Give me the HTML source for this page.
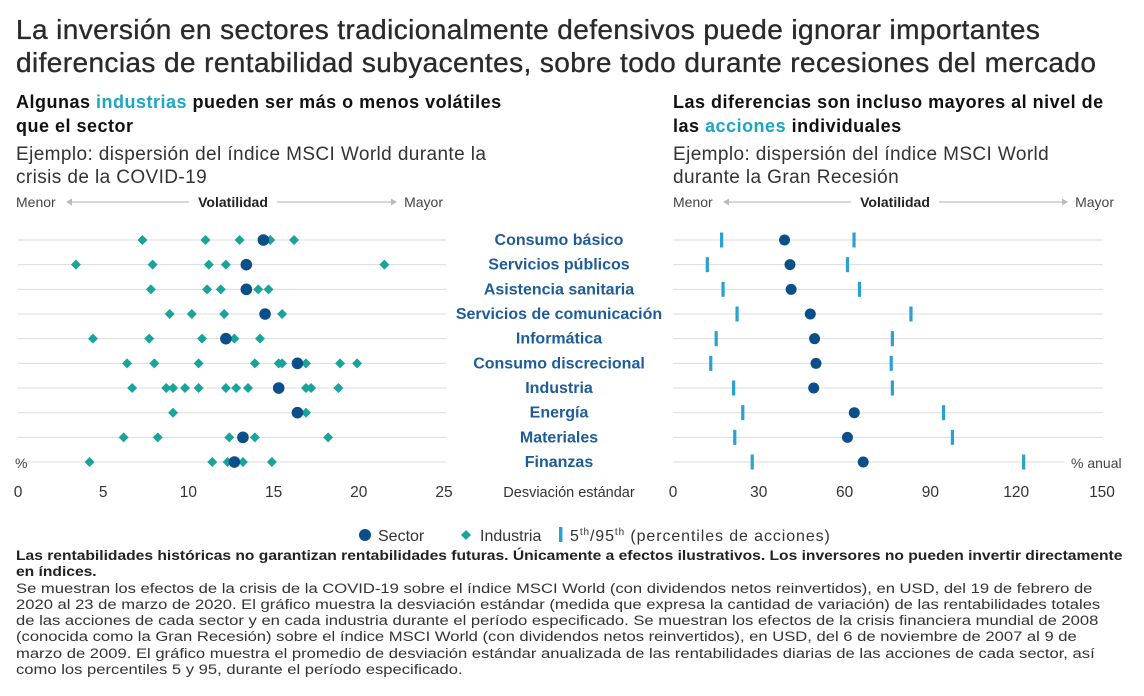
<!DOCTYPE html>
<html><head><meta charset="utf-8"><style>
body{margin:0;width:1144px;height:696px;background:#fff;font-family:"Liberation Sans",sans-serif;color:#222;position:relative;overflow:hidden}
.a{position:absolute;white-space:nowrap}
h1{position:absolute;left:16px;top:13px;margin:0;font-size:28px;font-weight:normal;line-height:33px;color:#2a2a2a;letter-spacing:0.4px;-webkit-text-stroke:0.35px #2a2a2a;white-space:nowrap}
.sub{font-weight:bold;font-size:18px;line-height:24px;color:#111;letter-spacing:0.5px}
.hl{color:#1aa6c4}
.desc{font-size:19px;line-height:23px;color:#333;letter-spacing:0.4px}
.foot{position:absolute;left:16px;top:548px;font-size:14.2px;line-height:16.3px;color:#333;white-space:nowrap;transform:scaleX(1.17);transform-origin:0 0}
.foot b{display:inline-block;transform:scaleX(0.94);transform-origin:0 0;color:#222}
</style></head><body>
<h1>La inversión en sectores tradicionalmente defensivos puede ignorar importantes<br>diferencias de rentabilidad subyacentes, sobre todo durante recesiones del mercado</h1>
<div class="a sub" style="left:16px;top:90px">Algunas <span class="hl">industrias</span> pueden ser más o menos volátiles<br>que el sector</div>
<div class="a desc" style="left:16px;top:143px">Ejemplo: dispersión del índice MSCI World durante la<br>crisis de la COVID-19</div>
<div class="a sub" style="left:673px;top:90px">Las diferencias son incluso mayores al nivel de<br>las <span class="hl">acciones</span> individuales</div>
<div class="a desc" style="left:673px;top:143px">Ejemplo: dispersión del índice MSCI World<br>durante la Gran Recesión</div>
<svg id="chart" class="a" style="left:0;top:0" width="1144" height="548"></svg>
<div class="foot"><b>Las rentabilidades históricas no garantizan rentabilidades futuras. Únicamente a efectos ilustrativos. Los inversores no pueden invertir directamente<br>en índices.</b><br>Se muestran los efectos de la crisis de la COVID-19 sobre el índice MSCI World (con dividendos netos reinvertidos), en USD, del 19 de febrero de<br>2020 al 23 de marzo de 2020. El gráfico muestra la desviación estándar (medida que expresa la cantidad de variación) de las rentabilidades totales<br>de las acciones de cada sector y en cada industria durante el período especificado. Se muestran los efectos de la crisis financiera mundial de 2008<br>(conocida como la Gran Recesión) sobre el índice MSCI World (con dividendos netos reinvertidos), en USD, del 6 de noviembre de 2007 al 9 de<br>marzo de 2009. El gráfico muestra el promedio de desviación estándar anualizada de las rentabilidades diarias de las acciones de cada sector, así<br>como los percentiles 5 y 95, durante el período especificado.</div>
<script>
const categories=["Consumo básico","Servicios públicos","Asistencia sanitaria","Servicios de comunicación","Informática","Consumo discrecional","Industria","Energía","Materiales","Finanzas"];
const leftSector=[14.4,13.4,13.4,14.5,12.2,16.4,15.3,16.4,13.2,12.7];
const leftIndustry=[[7.3,11.0,13.0,14.8,16.2],[3.4,7.9,11.2,12.2,21.5],[7.8,11.1,11.9,13.4,14.1,14.7],[8.9,10.2,12.1,15.5],[4.4,7.7,10.8,12.7,14.2],[6.4,8.0,10.6,13.9,15.3,15.5,16.9,18.9,19.9],[6.7,8.7,9.1,9.8,10.6,12.2,12.8,13.5,16.9,17.2,18.8],[9.1,16.9],[6.2,8.2,12.4,13.9,18.2],[4.2,11.4,12.3,13.2,14.9]];
const rightSector=[39,40.9,41.3,48,49.5,50,49.2,63.4,61,66.5];
const rightP5=[17,12,17.5,22.4,15.1,13.2,21.2,24.4,21.6,27.7];
const rightP95=[63.3,61,65.2,83.2,76.7,76.3,76.7,94.6,97.7,122.6];
const leftTicks=[0,5,10,15,20,25];
const rightTicks=[0,30,60,90,120,150];

const svg=document.getElementById('chart');const NS='http://www.w3.org/2000/svg';
function el(t,a,txt){const e=document.createElementNS(NS,t);for(const k in a)e.setAttribute(k,a[k]);if(txt!==undefined)e.textContent=txt;svg.appendChild(e);return e;}
const xL=v=>18+v*(444-18)/25;
const xR=v=>673+v*(1102-673)/150;
const yRow=i=>240+i*24.67;
const DB='#0b4f8a',TE='#1aa39a',LB='#2aa1d3';
function volHeader(x0,x1,mid){
let t=el('text',{x:x0,y:207,'font-size':14,fill:'#444'},'Menor');
t=el('text',{x:x1,y:207,'font-size':14,fill:'#444','text-anchor':'end'},'Mayor');
t=el('text',{x:mid,y:207,'font-size':14,'font-weight':'bold',fill:'#222','text-anchor':'middle'},'Volatilidad');
el('line',{x1:x0+54,y1:202,x2:mid-44,y2:202,stroke:'#ccc','stroke-width':1.5});
el('line',{x1:mid+44,y1:202,x2:x1-50,y2:202,stroke:'#ccc','stroke-width':1.5});
el('path',{d:`M${x0+50} 202 l6 -3.5 v7z`,fill:'#bbb'});
el('path',{d:`M${x1-46} 202 l-6 -3.5 v7z`,fill:'#bbb'});
}
volHeader(16,443,233);volHeader(673,1114,895);
categories.forEach((c,i)=>{const y=yRow(i);
el('line',{x1:18,y1:y,x2:446,y2:y,stroke:'#ddd','stroke-width':1});
el('line',{x1:673,y1:y,x2:i==9?1065:1103,y2:y,stroke:'#ddd','stroke-width':1});
const t=el('text',{x:559,y:y+5,'font-size':16,'font-weight':'bold',fill:'#1e5c99','text-anchor':'middle'},c);

leftIndustry[i].forEach(v=>{const x=xL(v);const d=el('path',{d:`M${x} ${y-5} L${x+5} ${y} L${x} ${y+5} L${x-5} ${y}Z`,fill:TE});
});
let s=el('circle',{cx:xL(leftSector[i]),cy:y,r:5.8,fill:DB});

[rightP5[i],rightP95[i]].forEach(v=>{const r=el('rect',{x:xR(v)-1.6,y:y-7.5,width:3.2,height:15,fill:LB});
});
s=el('circle',{cx:xR(rightSector[i]),cy:y,r:5.5,fill:DB});

});
el('text',{x:15,y:468,'font-size':14,fill:'#444'},'%');
el('text',{x:1071,y:468,'font-size':14,fill:'#444'},'% anual');
leftTicks.forEach(v=>{const t=el('text',{x:xL(v),y:497,'font-size':15.5,fill:'#333','text-anchor':'middle'},v);});
rightTicks.forEach(v=>{const t=el('text',{x:xR(v),y:497,'font-size':15.5,fill:'#333','text-anchor':'middle'},v);});
let t=el('text',{x:569,y:497,'font-size':14.5,fill:'#333','text-anchor':'middle'},'Desviación estándar');
el('circle',{cx:365,cy:535,r:6,fill:DB});
el('text',{x:378,y:541,'font-size':16,fill:'#333'},'Sector');
el('path',{d:'M466 530 L471 535 L466 540 L461 535Z',fill:TE});
el('text',{x:480,y:541,'font-size':16,fill:'#333'},'Industria');
el('rect',{x:559,y:527,width:3.4,height:15,fill:LB});
const lt=el('text',{x:570,y:541,'font-size':16,fill:'#333','letter-spacing':'0.9'});

lt.innerHTML='5<tspan dy="-6" font-size="10">th</tspan><tspan dy="6">/95</tspan><tspan dy="-6" font-size="10">th</tspan><tspan dy="6"> (percentiles de acciones)</tspan>';
</script>
</body></html>
